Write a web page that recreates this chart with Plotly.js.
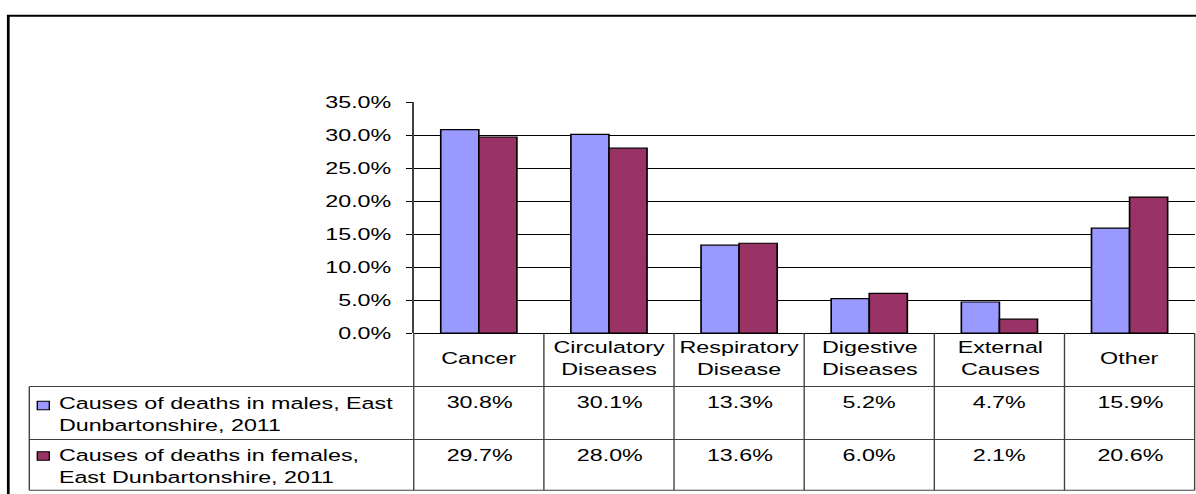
<!DOCTYPE html>
<html>
<head>
<meta charset="utf-8">
<script src="https://cdn.plot.ly/plotly-3.0.1.min.js"></script>
<style>
  html, body { margin: 0; padding: 0; background: #fff; overflow: hidden; width: 1196px; height: 494px; }
  /* the chart is laid out narrow and widened, giving the broad lettering of the table */
  #chart { width: 873px; height: 494px; transform: scaleX(1.37); transform-origin: 0 0; }
</style>
</head>
<body>
<div id="chart"></div>
<script>
// ---- data ----
const categories = ['Cancer', 'Circulatory Diseases', 'Respiratory Disease', 'Digestive Diseases', 'External Causes', 'Other'];
const headerLabels = ['Cancer', 'Circulatory<br>Diseases', 'Respiratory<br>Disease', 'Digestive<br>Diseases', 'External<br>Causes', 'Other'];
const maleName = 'Causes of deaths in males, East<br>Dunbartonshire, 2011';
const femaleName = 'Causes of deaths in females,<br>East Dunbartonshire, 2011';
const malePct = [30.8, 30.1, 13.3, 5.2, 4.7, 15.9];
const femalePct = [29.7, 28.0, 13.6, 6.0, 2.1, 20.6];
const yTickValues = [0, 5, 10, 15, 20, 25, 30, 35];

// ---- styles ----
const maleColor = '#9999FF';
const femaleColor = '#993366';
const FONT = 'Liberation Sans, Arial, sans-serif';
const FS = 17;
const SX = 1.37;                 // horizontal widening applied to #chart
const LINE = '#404040';

// plot frame in final picture pixels
const PLOT = { left: 414, right: 1194, top: 102.3, bottom: 333.5 };
const W = 873, H = 494;
const px = x => (x - PLOT.left) / (PLOT.right - PLOT.left);
const py = y => (PLOT.bottom - y) / (PLOT.bottom - PLOT.top);

// table rows (picture pixels)
const ROW_TOP = 387, ROW_MID = 440, ROW_BOT = 491, TABLE_LEFT = 30;
const n = categories.length;

const traces = [
  { type: 'bar', name: maleName, x: categories, y: malePct,
    marker: { color: maleColor, line: { color: '#000', width: 1.2 } } },
  { type: 'bar', name: femaleName, x: categories, y: femalePct,
    marker: { color: femaleColor, line: { color: '#000', width: 1.2 } } }
];

const shapes = [];
const annotations = [];
const hline = (y, x0, x1, color, w) => shapes.push({ type: 'line', xref: 'paper', yref: 'paper',
  x0: x0, x1: x1, y0: py(y), y1: py(y), line: { color: color, width: w } });
const vline = (x, y0, y1, color, w) => shapes.push({ type: 'line', xref: 'paper', yref: 'paper',
  x0: x, x1: x, y0: py(y0), y1: py(y1), line: { color: color, width: w } });

// outer chart border
shapes.push({ type: 'rect', xref: 'paper', yref: 'paper',
  x0: px(9), x1: px(1215), y0: py(520), y1: py(16), line: { color: '#000', width: 2 } });

// data table grid
hline(ROW_TOP, px(TABLE_LEFT), 1, LINE, 1);
hline(ROW_MID, px(TABLE_LEFT), 1, LINE, 1);
hline(ROW_BOT, px(TABLE_LEFT), 1, LINE, 1);
vline(px(TABLE_LEFT), ROW_TOP, ROW_BOT, LINE, 1);
for (let k = 0; k <= n; k++) vline(k / n, PLOT.bottom, ROW_BOT, LINE, 1);

// header labels
headerLabels.forEach((lab, i) => annotations.push({
  xref: 'x', yref: 'paper', x: categories[i], y: py(359.5), text: lab,
  showarrow: false, xanchor: 'center', yanchor: 'middle', align: 'center',
  font: { family: FONT, size: FS, color: '#000' } }));

// value rows
const rows = [
  { vals: malePct, color: maleColor, name: maleName, textY: 403, keyY0: 401.7, keyY1: 410.3, nameY: 415 },
  { vals: femalePct, color: femaleColor, name: femaleName, textY: 456, keyY0: 452.3, keyY1: 460.9, nameY: 467 }
];
rows.forEach(r => {
  r.vals.forEach((v, i) => annotations.push({
    xref: 'x', yref: 'paper', x: categories[i], y: py(r.textY), text: v.toFixed(1) + '%',
    showarrow: false, xanchor: 'center', yanchor: 'middle',
    font: { family: FONT, size: FS, color: '#000' } }));
  // legend key
  shapes.push({ type: 'rect', xref: 'paper', yref: 'paper',
    x0: px(38), x1: px(50), y0: py(r.keyY1), y1: py(r.keyY0),
    fillcolor: r.color, line: { color: '#000', width: 1 } });
  annotations.push({
    xref: 'paper', yref: 'paper', x: px(57), y: py(r.nameY), text: r.name,
    showarrow: false, xanchor: 'left', yanchor: 'middle', align: 'left',
    font: { family: FONT, size: FS, color: '#000' } });
});

const layout = {
  width: W, height: H,
  margin: { l: PLOT.left / SX, r: (1196 - PLOT.right) / SX, t: PLOT.top, b: H - PLOT.bottom, pad: 0 },
  paper_bgcolor: '#fff', plot_bgcolor: '#fff',
  showlegend: false,
  barmode: 'group', bargap: 0.415, bargroupgap: 0,
  font: { family: FONT, size: FS, color: '#000' },
  xaxis: { type: 'category', range: [-0.5, n - 0.5], showticklabels: false, ticks: '',
    showgrid: false, zeroline: false, showline: false, fixedrange: true },
  yaxis: { range: [0, 35], tickvals: yTickValues, ticktext: yTickValues.map(v => v.toFixed(1) + '%'),
    ticks: 'outside', ticklen: 5, tickcolor: '#000', tickwidth: 1, ticklabelstandoff: 7,
    showgrid: true, gridcolor: '#000', gridwidth: 1,
    zeroline: true, zerolinecolor: '#000', zerolinewidth: 1,
    showline: true, linecolor: LINE, linewidth: 1,
    tickfont: { family: FONT, size: FS, color: '#000' }, fixedrange: true },
  shapes: shapes,
  annotations: annotations
};

Plotly.newPlot('chart', traces, layout, { staticPlot: true, displayModeBar: false });
</script>
</body>
</html>
